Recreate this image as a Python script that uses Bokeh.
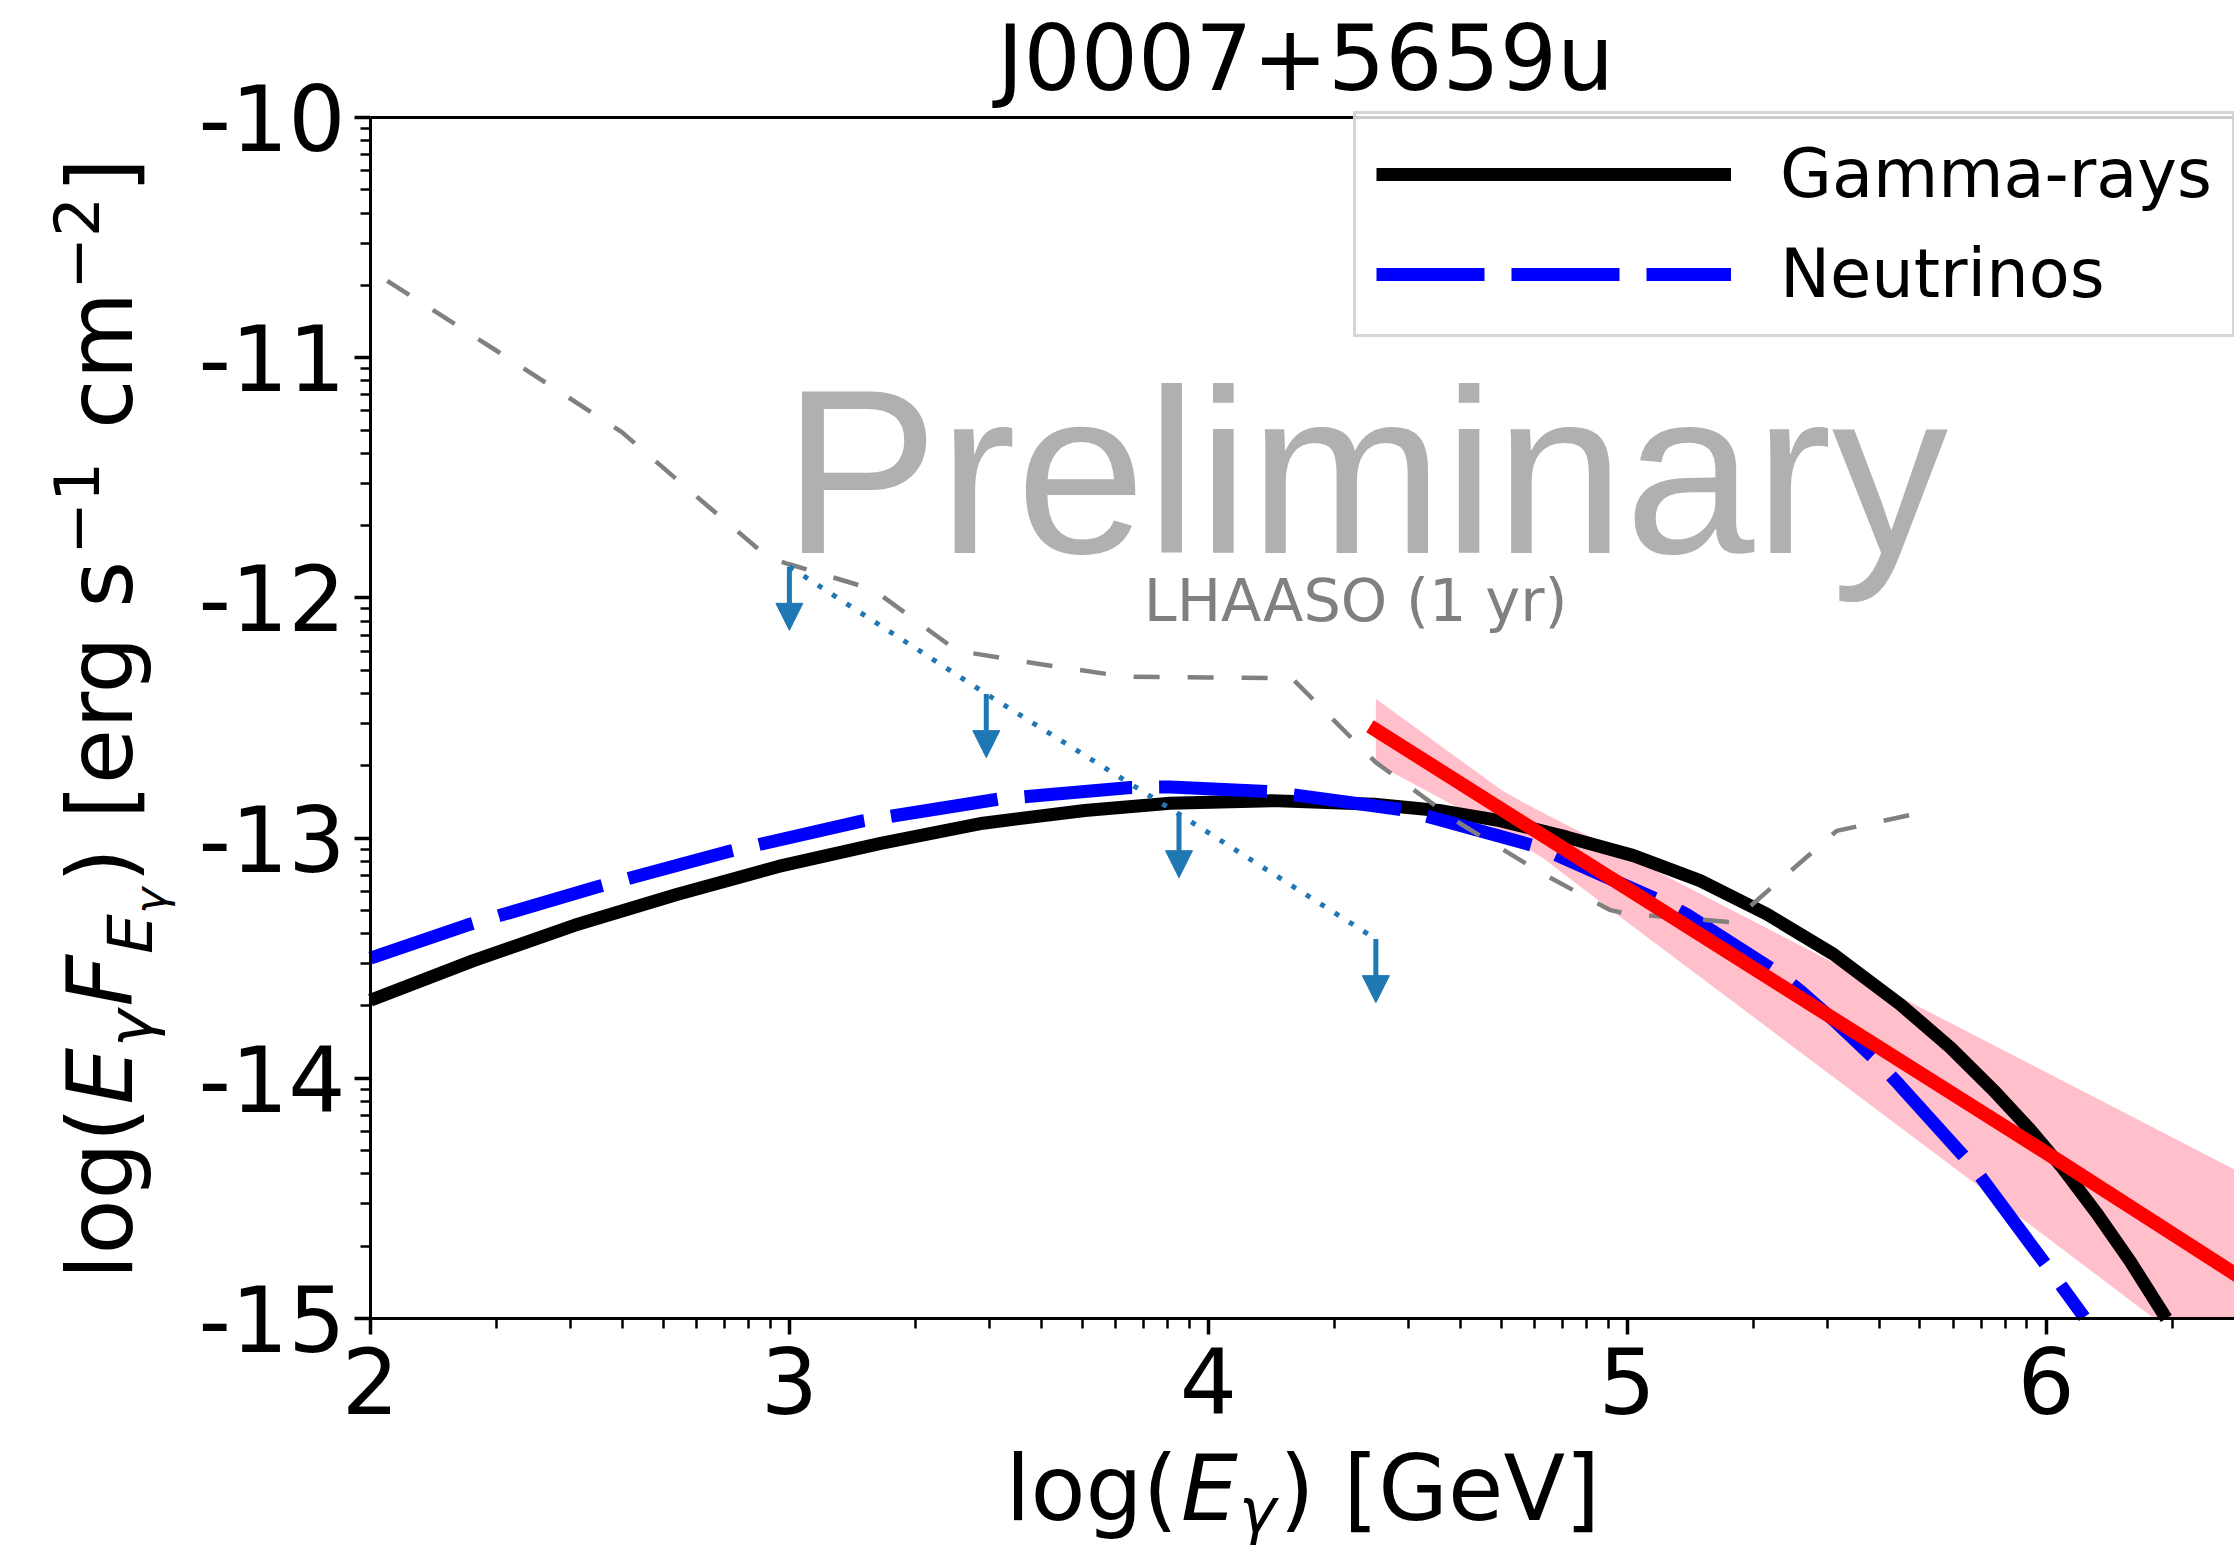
import math
from bokeh.plotting import figure
from bokeh.models import (Range1d, FixedTicker, Label, Legend, LegendItem, LinearAxis,
                          Arrow, NormalHead, ColumnDataSource)
from bokeh.embed import file_html
from bokeh.resources import INLINE

# ---------------- data ----------------
gamma_x = [2.0, 2.244, 2.487, 2.731, 2.974, 3.218, 3.462, 3.705, 3.909, 4.152, 4.396,
           4.55, 4.696, 4.856, 5.015, 5.174, 5.333, 5.492, 5.651, 5.771, 5.88, 5.96,
           6.04, 6.12, 6.2, 6.287]
gamma_y = [-13.675, -13.511, -13.363, -13.235, -13.118, -13.022, -12.938, -12.885,
           -12.855, -12.844, -12.859, -12.885, -12.927, -12.996, -13.073, -13.177,
           -13.316, -13.483, -13.691, -13.871, -14.06, -14.21, -14.375, -14.56,
           -14.76, -15.0]

nu_x = [2.0, 2.231, 2.542, 2.859, 3.175, 3.498, 3.815, 3.909, 4.146, 4.469, 4.786,
        5.084, 5.142, 5.364, 5.417, 5.494, 5.597, 5.648, 5.824, 6.019, 6.091]
nu_y = [-13.50, -13.362, -13.203, -13.054, -12.928, -12.838, -12.789, -12.787,
        -12.806, -12.883, -13.036, -13.265, -13.318, -13.566, -13.642, -13.76,
        -13.93, -14.024, -14.364, -14.822, -14.995]

lhaaso_x = [2.04, 2.3, 2.6, 2.8, 2.95, 3.0, 3.2, 3.4, 3.6, 3.8, 4.0, 4.2, 4.4,
            4.6, 4.8, 4.96, 5.0, 5.25, 5.5, 5.72]
lhaaso_y = [-10.68, -10.97, -11.31, -11.61, -11.832, -11.86, -11.965, -12.22,
            -12.276, -12.328, -12.331, -12.335, -12.685, -12.938, -13.15, -13.30,
            -13.315, -13.35, -12.97, -12.887]

ul_x = [3.0, 3.47, 3.93, 4.4]
ul_y = [-11.87, -12.40, -12.90, -13.42]
ul_len = 0.265

fit_x = [4.4, 5.0, 5.5, 6.0, 6.5]
fit_y = [-12.55, -13.21, -13.76, -14.31, -14.87]

band_x = [4.4, 4.55, 4.7, 4.75, 4.8, 5.0, 5.5, 6.0, 6.258, 6.5]
band_hi = [-12.42, -12.61, -12.80, -12.85, -12.895, -13.075, -13.525, -13.975, -14.207, -14.425]
band_lo = [-12.69, -12.83, -12.975, -13.03, -13.085, -13.35, -14.005, -14.66, -15.0, -15.0]

x_ticks = [2, 3, 4, 5, 6]
x_tick_labels = ["2", "3", "4", "5", "6"]
y_ticks = [-15, -14, -13, -12, -11, -10]
y_tick_labels = ["-15", "-14", "-13", "-12", "-11", "-10"]

title_text = "J0007+5659u"
legend_labels = ["Gamma-rays", "Neutrinos"]

# ---------------- layout ----------------
W, H = 2234, 1550
FL, FT = 370, 117                # axes box: left / top edge in px
PXX, PXY = 418.9, 240.2          # px per data unit
X_MIN, X_MAX = 2.0, 2.0 + (W - FL) / PXX
Y_MIN, Y_MAX = -15.0, -10.0
FONT = "DejaVu Sans"
MID = 0.37                       # baseline correction (fraction of font size)

# the frame covers the whole canvas; axes are drawn at fixed data locations
p = figure(width=W, height=H, title=None,
           x_range=Range1d(X_MIN - FL / PXX, X_MAX),
           y_range=Range1d(Y_MAX - (H - FT) / PXY, Y_MAX + FT / PXY),
           output_backend="svg", toolbar_location=None,
           min_border=0, min_border_left=0, min_border_right=0,
           min_border_top=0, min_border_bottom=0)
p.outline_line_color = None
p.background_fill_color = "white"
p.border_fill_color = "white"
p.xgrid.visible = False
p.ygrid.visible = False

x_minor = [n + math.log10(k) for n in range(2, 7) for k in range(2, 10)
           if n + math.log10(k) < X_MAX]
y_minor = [n + math.log10(k) for n in range(-15, -10) for k in range(2, 10)]
p.xaxis.ticker = FixedTicker(ticks=x_ticks, minor_ticks=x_minor)
p.yaxis.ticker = FixedTicker(ticks=y_ticks, minor_ticks=y_minor)
p.xaxis.major_label_overrides = dict(zip(x_ticks, x_tick_labels))
p.yaxis.major_label_overrides = dict(zip(y_ticks, y_tick_labels))
p.xaxis.fixed_location = Y_MIN
p.yaxis.fixed_location = X_MIN
p.xaxis.bounds = (X_MIN, X_MAX)
p.yaxis.bounds = (Y_MIN, Y_MAX)

for ax in (p.xaxis[0], p.yaxis[0]):
    ax.axis_label = None
    ax.axis_line_width = 3
    ax.axis_line_color = "black"
    ax.major_tick_line_width = 3.5
    ax.minor_tick_line_width = 2.5
    ax.major_tick_out = 16
    ax.major_tick_in = 0
    ax.minor_tick_out = 10
    ax.minor_tick_in = 0
    ax.major_label_text_font = FONT
    ax.major_label_text_font_size = "90px"
    ax.major_label_text_color = "black"
p.xaxis.major_label_standoff = 12
p.yaxis.major_label_standoff = 9

# top spine
top = LinearAxis(fixed_location=Y_MAX, bounds=(X_MIN, X_MAX),
                 ticker=FixedTicker(ticks=[]), axis_line_width=3,
                 axis_line_color="black", major_tick_line_color=None,
                 minor_tick_line_color=None, major_label_text_font_size="0px")
p.add_layout(top, "above")

# ---------------- glyphs ----------------
p.varea(x=band_x, y1=band_lo, y2=band_hi, fill_color="pink")
r_gamma = p.line(gamma_x, gamma_y, line_color="black", line_width=13, line_join="round")
r_nu = p.line(nu_x, nu_y, line_color="blue", line_width=13, line_dash="108 27",
              line_join="round")
p.line(lhaaso_x, lhaaso_y, line_color="gray", line_width=4.5, line_dash="26 28")
p.line(ul_x, ul_y, line_color="#1f77b4", line_width=5, line_dash="5 12")
ul_src = ColumnDataSource(dict(x=ul_x, y0=ul_y, y1=[v - ul_len for v in ul_y]))
p.add_layout(Arrow(end=NormalHead(size=27, fill_color="#1f77b4", line_color="#1f77b4",
                                  line_width=1),
                   x_start="x", y_start="y0", x_end="x", y_end="y1", source=ul_src,
                   line_color="#1f77b4", line_width=5))
p.line(fit_x, fit_y, line_color="red", line_width=14, line_cap="square")

# ---------------- texts ----------------
PRE_SIZE, LH_SIZE = 233, 59
p.add_layout(Label(x=2.985, y=-11.823 + 0.36 * PRE_SIZE / PXY, text="Preliminary",
                   text_font="Liberation Sans", text_font_size=f"{PRE_SIZE}px",
                   text_color="#b0b0b0", text_baseline="alphabetic", text_align="left"))
p.add_layout(Label(x=3.846, y=-12.10 + MID * LH_SIZE / PXY, text="LHAASO (1 yr)",
                   text_font=FONT, text_font_size=f"{LH_SIZE}px", text_color="gray",
                   text_baseline="alphabetic", text_align="left"))


def scr_label(text, X, Y, size, style="normal", angle=0.0, align="left"):
    """X, Y: wanted baseline anchor in canvas px (from top-left)."""
    if angle == 0.0:
        Y = Y - MID * size
    else:
        X = X - MID * size
    p.add_layout(Label(x=X, y=H - Y, x_units="screen", y_units="screen",
                       text=text, text_font=FONT, text_font_size=f"{size}px",
                       text_font_style=style, text_color="black", angle=angle,
                       text_align=align, text_baseline="alphabetic"))


# title
scr_label(title_text, 1305, 91, 90, align="center")

FS, SS, SSS = 90, 63, 44.1
# x-axis label  log(E_gamma) [GeV]
x_frags = [("log(", 0.0, 0.0, FS, "normal"),
           ("E", 172.4, 0.0, FS, "italic"),
           ("γ", 229.3, -12.0, SS, "italic"),
           (") [GeV]", 269.1, 0.0, FS, "normal")]
X0, BY, kx = 1005, 1521, 1.018
for t, off, sh, sz, st in x_frags:
    scr_label(t, X0 + off * kx, BY - sh, sz, st)

# y-axis label  log(E_g F_{E_g}) [erg s^-1 cm^-2]
y_frags = [("log(", 0.0, 0.0, FS, "normal"),
           ("E", 172.4, 0.0, FS, "italic"),
           ("γ", 229.3, -19.7, SS, "italic"),
           ("F", 269.1, 0.0, FS, "italic"),
           ("E", 320.9, -19.7, SS, "italic"),
           ("γ", 360.7, -33.5, SSS, "italic"),
           (") [erg s", 391.0, 0.0, FS, "normal"),
           ("−1", 714.8, 34.4, SS, "normal"),
           ("cm", 838.8, 0.0, FS, "normal"),
           ("−2", 976.0, 34.4, SS, "normal"),
           ("]", 1071.4, 0.0, FS, "normal")]
BX, Y0, ky = 133.3, 1279, 1.014
for t, off, sh, sz, st in y_frags:
    scr_label(t, BX - sh, Y0 - off * ky, sz, st, angle=math.pi / 2)

# ---------------- legend ----------------
legend = Legend(items=[LegendItem(label=legend_labels[0], renderers=[r_gamma]),
                       LegendItem(label=legend_labels[1], renderers=[r_nu])],
                location=(1353, H - 337), orientation="vertical",
                label_text_font=FONT, label_text_font_size="67px",
                label_text_color="black", glyph_width=355, glyph_height=80,
                label_height=80, label_standoff=49, spacing=20, padding=20,
                margin=0, border_line_color="#cccccc", border_line_width=3,
                border_line_alpha=0.8, background_fill_color="white",
                background_fill_alpha=0.8)
p.add_layout(legend)

open("out.html", "w").write(file_html(p, INLINE))
